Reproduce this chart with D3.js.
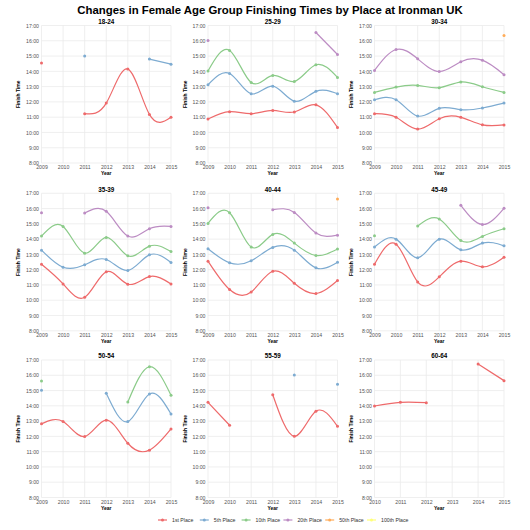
<!DOCTYPE html>
<html>
<head>
<meta charset="utf-8">
<script src="https://cdn.jsdelivr.net/npm/d3@7"></script>
<style>
  body { margin: 0; background: #fff; }
  svg text { font-family: "Liberation Sans", Arial, Helvetica, sans-serif; }
</style>
</head>
<body>
<div id="chart"></div>
<script>
// Data (finish time in hours, null = no finisher)
const years = [2009, 2010, 2011, 2012, 2013, 2014, 2015];
const places = ["1st Place", "5th Place", "10th Place", "20th Place", "50th Place", "100th Place"];
const ageGroups = ["18-24", "25-29", "30-34", "35-39", "40-44", "45-49", "50-54", "55-59", "60-64"];
const hourTicks = [8, 9, 10, 11, 12, 13, 14, 15, 16, 17];

// one row per place, in the order of `places`
const times_18_24 = [
  [14.55, null, 11.23, 11.92, 14.15, 11.18, 10.99],
  [null, null, 15.0, null, null, 14.8, 14.47]
];
const times_25_29 = [
  [10.88, 11.36, 11.23, 11.44, 11.34, 11.81, 10.33],
  [13.12, 13.86, 12.53, 13.03, 12.05, 12.69, 12.53],
  [14.02, 15.37, 13.27, 13.73, 13.34, 14.43, 13.6],
  [16.02, null, null, null, null, 16.54, 15.1]
];
const times_30_34 = [
  [11.23, 10.99, 10.22, 10.9, 10.99, 10.5, 10.49],
  [12.14, 12.14, 11.07, 11.58, 11.49, 11.6, 11.92],
  [12.62, 12.97, 13.08, 12.93, 13.3, 12.99, 12.62],
  [14.06, 15.43, 14.82, 13.99, 14.63, 14.73, 13.78],
  [null, null, null, null, null, null, 16.35]
];
const times_35_39 = [
  [12.36, 11.07, 10.19, 11.86, 11.05, 11.55, 11.07],
  [13.28, 12.16, 12.32, 12.67, 11.95, 12.97, 12.47],
  [14.2, 14.83, 13.08, 14.11, 12.91, 13.54, 13.19],
  [15.73, null, 15.71, 15.82, 14.2, 14.68, 14.83]
];
const times_40_44 = [
  [12.56, 10.7, 10.54, 11.9, 11.11, 10.44, 11.29],
  [13.37, 12.45, 12.58, 13.46, 13.28, 12.12, 12.49],
  [15.03, 15.73, 13.48, 14.31, 13.74, 12.93, 13.35],
  [16.06, null, null, 15.93, 15.75, 14.4, 14.26],
  [null, null, null, null, null, null, 16.63]
];
const times_45_49 = [
  [12.36, 13.67, 11.2, 11.53, 12.56, 12.19, 12.82],
  [13.48, 14.0, 12.78, 14.0, 13.3, 13.74, 13.56],
  [14.22, null, 14.86, 15.32, 13.91, 14.18, 14.68],
  [null, null, null, null, 16.21, 14.96, 16.02]
];
const times_50_54 = [
  [12.82, 12.97, 11.99, 13.06, 11.55, 11.1, 12.49],
  [15.02, null, null, 14.82, 12.97, 14.78, 13.47],
  [15.63, null, null, null, 14.25, 16.56, 14.69]
];
const times_55_59 = [
  [14.23, 12.73, null, 14.73, 12.01, 13.64, 12.66],
  [null, null, null, null, 16.02, null, 15.41]
];
const times_60_64 = [
  [null, 13.99, 14.23, 14.21, null, 16.74, 15.65]
];

const panelTimes = [times_18_24, times_25_29, times_30_34, times_35_39, times_40_44,
                    times_45_49, times_50_54, times_55_59, times_60_64];

// Set1, washed out over white
const colors = ["#ee6a6b", "#7dabd1", "#8bcb89", "#bc8cc3", "#ffac59", "#ffff7a"];

const W = 530, H = 530;
const svg = d3.select("#chart").append("svg")
  .attr("width", W)
  .attr("height", H);

svg.append("text")
  .attr("x", W / 2 + 5)
  .attr("y", 13.5)
  .attr("text-anchor", "middle")
  .style("font-size", "11.4px")
  .style("font-weight", "bold")
  .style("fill", "#000")
  .text("Changes in Female Age Group Finishing Times by Place at Ironman UK");

// panel geometry
const plotW = 129.5, plotH = 137.5;
const colX = [41.5, 208, 374.5];
const rowY = [25.5, 193.3, 360];

const color = d3.scaleOrdinal().domain(places).range(colors);

ageGroups.forEach((group, i) => {
  const rows = panelTimes[i];
  const x0 = colX[i % 3], y0 = rowY[Math.floor(i / 3)];

  // years in which this group has any value
  const usedYears = years.filter((yr, j) => rows.some(r => r[j] != null));
  const x = d3.scaleLinear()
    .domain(d3.extent(usedYears))
    .range([0, plotW]);
  const y = d3.scaleLinear()
    .domain([8, 17])
    .range([plotH, 0]);

  const g = svg.append("g").attr("transform", `translate(${x0},${y0})`);
  const xTicks = years.filter(yr => yr >= x.domain()[0] && yr <= x.domain()[1]);

  // grid
  g.selectAll("line.hgrid")
    .data(hourTicks)
    .enter().append("line")
    .attr("class", "hgrid")
    .attr("x1", 0).attr("x2", plotW)
    .attr("y1", d => y(d)).attr("y2", d => y(d))
    .attr("stroke", "#ebebeb")
    .attr("stroke-width", 0.8);
  g.selectAll("line.vgrid")
    .data(xTicks)
    .enter().append("line")
    .attr("class", "vgrid")
    .attr("y1", 0).attr("y2", plotH)
    .attr("x1", d => x(d)).attr("x2", d => x(d))
    .attr("stroke", "#ebebeb")
    .attr("stroke-width", 0.8);

  // axes (labels only)
  const yAxis = g.append("g")
    .call(d3.axisLeft(y).tickValues(hourTicks).tickFormat(d => d + ":00").tickSize(0).tickPadding(2.5));
  const xAxis = g.append("g")
    .attr("transform", `translate(0,${plotH})`)
    .call(d3.axisBottom(x).tickValues(xTicks).tickFormat(d3.format("d")).tickSize(0).tickPadding(2.5));
  [yAxis, xAxis].forEach(a => {
    a.select(".domain").remove();
    a.selectAll("text")
      .style("font-size", "5.2px")
      .style("fill", "#555")
      .style("font-family", "\"Liberation Sans\", Arial, sans-serif");
  });

  // titles
  g.append("text")
    .attr("x", plotW / 2)
    .attr("y", -1.6)
    .attr("text-anchor", "middle")
    .style("font-size", "6.3px")
    .style("font-weight", "bold")
    .text(group);
  g.append("text")
    .attr("x", plotW / 2)
    .attr("y", plotH + 12)
    .attr("text-anchor", "middle")
    .style("font-size", "5px")
    .style("font-weight", "bold")
    .text("Year");
  g.append("text")
    .attr("transform", `translate(${-21.5},${plotH / 2}) rotate(-90)`)
    .attr("text-anchor", "middle")
    .style("font-size", "5px")
    .style("font-weight", "bold")
    .text("Finish Time");

  const line = d3.line()
    .defined(d => d.t != null)
    .x(d => x(d.year))
    .y(d => y(d.t))
    .curve(d3.curveNatural);

  rows.forEach((r, p) => {
    const pts = years.map((yr, j) => ({ year: yr, t: r[j] }));
    g.append("path")
      .datum(pts)
      .attr("d", line)
      .attr("fill", "none")
      .attr("stroke", color(places[p]))
      .attr("stroke-width", 1.2);
    g.selectAll(null)
      .data(pts.filter(d => d.t != null))
      .enter().append("circle")
      .attr("cx", d => x(d.year))
      .attr("cy", d => y(d.t))
      .attr("r", 1.5)
      .attr("fill", color(places[p]));
  });
});

// legend
const legend = svg.append("g").attr("transform", "translate(158,520)");
const item = legend.selectAll("g")
  .data(places)
  .enter().append("g")
  .attr("transform", (d, i) => `translate(${i * 41.8},0)`);
item.append("line")
  .attr("x1", 0).attr("x2", 9)
  .attr("stroke", d => color(d))
  .attr("stroke-width", 1.2);
item.append("circle")
  .attr("cx", 4.5)
  .attr("r", 1.5)
  .attr("fill", d => color(d));
item.append("text")
  .attr("x", 14)
  .attr("y", 1.8)
  .style("font-size", "5.2px")
  .style("fill", "#333")
  .text(d => d);
</script>
</body>
</html>
